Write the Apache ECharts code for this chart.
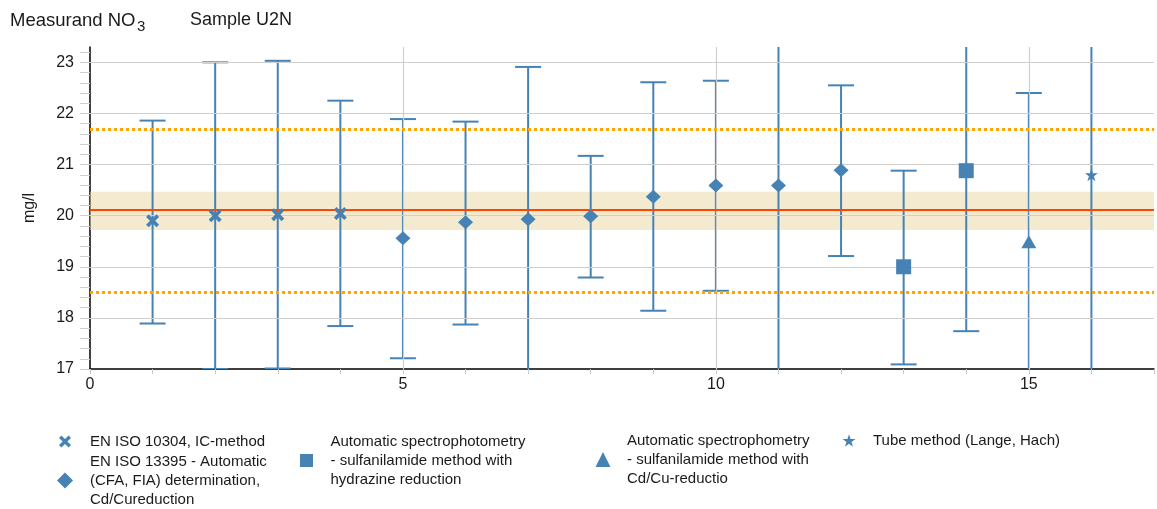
<!DOCTYPE html>
<html><head><meta charset="utf-8">
<script src="https://cdn.jsdelivr.net/npm/echarts@6/dist/echarts.min.js"></script>
<style>html,body{margin:0;padding:0;background:#fff}#c{width:1157px;height:509px}</style>
</head><body><div id="c"></div>
<script>
const labIds      = [1, 2, 3, 4, 5, 6, 7, 8, 9, 10, 11, 12, 13, 14, 15, 16];
const labValues   = [19.90, 20.00, 20.02, 20.04, 19.56, 19.87, 19.93, 19.99, 20.37, 20.59, 20.59, 20.89, 19.00, 20.88, 19.49, 20.80];
const lowerLimits = [17.89, 17.00, 17.01, 17.84, 17.21, 17.87, 16.95, 18.79, 18.14, 18.53, 16.90, 19.21, 17.09, 17.74, 16.58, 16.60];
const upperLimits = [21.86, 23.00, 23.03, 22.25, 21.89, 21.84, 22.91, 21.17, 22.61, 22.64, 24.30, 22.55, 20.88, 24.00, 22.40, 25.00];
const labMethod   = [0, 0, 0, 0, 1, 1, 1, 1, 1, 1, 1, 1, 2, 2, 3, 4];
const methodNames = [
  'EN ISO 10304, IC-method',
  'EN ISO 13395 - Automatic (CFA, FIA) determination, Cd/Cureduction',
  'Automatic spectrophotometry - sulfanilamide method with hydrazine reduction',
  'Automatic spectrophometry - sulfanilamide method with Cd/Cu-reductio',
  'Tube method (Lange, Hach)'
];
const methodLegendText = [
  'EN ISO 10304, IC-method',
  'EN ISO 13395 - Automatic\n(CFA, FIA) determination,\nCd/Cureduction',
  'Automatic spectrophotometry\n- sulfanilamide method with\nhydrazine reduction',
  'Automatic spectrophometry\n- sulfanilamide method with\nCd/Cu-reductio',
  'Tube method (Lange, Hach)'
];
const assignedValue   = 20.12;
const uncertaintyBand = [19.72, 20.47];
const toleranceLimits = [18.50, 21.70];
const yLabelTicks = [17, 18, 19, 20, 21, 22, 23];
const xLabelTicks = [0, 5, 10, 15];

const BLUE = '#4682B4';
const TXT = '#1a1a1a';
const FONT = 'Liberation Sans, Arial, sans-serif';
const symbols = [
  'path://M2,0L5,3L8,0L10,2L7,5L10,8L8,10L5,7L2,10L0,8L3,5L0,2Z',
  'diamond',
  'rect',
  'triangle',
  'path://M50,0L61.8,36.2L100,36.2L69.1,58.8L80.9,95.1L50,72.7L19.1,95.1L30.9,58.8L0,36.2L38.2,36.2Z'
];
const symbolSizes = [[13,13],[15,14],[15,15],[15,13],[13,13]];

const yMinorTicks = [];
for (let k = 170; k <= 232; k += 2) yMinorTicks.push(k / 10);
const xTicks = [];
for (let k = 0; k <= 17; k++) xTicks.push(k);

const errData = labIds.map((id, i) => [id, lowerLimits[i], upperLimits[i]]);

const scatterSeries = methodNames.map((name, m) => ({
  type: 'scatter', name: name, z: 5,
  symbol: symbols[m], symbolSize: symbolSizes[m],
  itemStyle: { color: BLUE, opacity: 1 },
  data: labIds.map((id, i) => labMethod[i] === m ? [id, labValues[i]] : null).filter(d => d)
}));

// icon centre x, top y, icon size, text offset from icon centre
const legendPos = [
  { cx: 65, top: 432, size: 12, off: 25 },
  { cx: 65, top: 452, size: 16, off: 25 },
  { cx: 306.5, top: 432, size: 13, off: 24 },
  { cx: 603, top: 431, size: 15, off: 24 },
  { cx: 849, top: 431, size: 13, off: 24 }
];
const legends = methodNames.map((name, m) => {
  const p = legendPos[m];
  return {
    data: [name], left: p.cx - p.size / 2, top: p.top, padding: 0,
    itemWidth: p.size, itemHeight: p.size, selectedMode: false,
    formatter: () => methodLegendText[m],
    textStyle: { fontSize: 15, fontFamily: FONT, color: TXT, lineHeight: 19,
                 padding: [0, 0, 0, p.off - p.size / 2 - 5] }
  };
});

const chart = echarts.init(document.getElementById('c'), null, { renderer: 'canvas' });
chart.setOption({
  animation: false,
  backgroundColor: '#fff',
  textStyle: { fontFamily: FONT },
  graphic: [
    { type: 'text', left: 10, top: 11, style: { text: 'Measurand NO', font: '18.5px ' + FONT, fill: TXT } },
    { type: 'text', left: 137, top: 19, style: { text: '3', font: '15px ' + FONT, fill: TXT } },
    { type: 'text', left: 190, top: 11, style: { text: 'Sample U2N', font: '18px ' + FONT, fill: TXT } }
  ],
  legend: legends,
  grid: { left: 90, right: 3, top: 47, bottom: 140, containLabel: false },
  xAxis: {
    type: 'value', min: 0, max: 17,
    axisLine: { lineStyle: { color: '#000', width: 1.5 } },
    axisTick: { show: true, customValues: xTicks, length: 5, lineStyle: { color: '#c8c8c8', width: 1 } },
    axisLabel: { customValues: xLabelTicks, fontSize: 16, color: TXT, margin: 8, fontFamily: FONT },
    splitLine: { show: false }
  },
  yAxis: {
    type: 'value', min: 17, max: 23.3,
    name: 'mg/l', nameLocation: 'middle', nameGap: 52,
    nameTextStyle: { fontSize: 16, color: TXT, fontFamily: FONT },
    axisLine: { show: true, lineStyle: { color: '#000', width: 1.5 } },
    axisTick: { show: true, customValues: yMinorTicks, length: 10, lineStyle: { color: '#cfcfcf', width: 1 } },
    axisLabel: { customValues: yLabelTicks, fontSize: 16, color: TXT, margin: 16, fontFamily: FONT },
    splitLine: { show: false }
  },
  series: [
    {
      type: 'line', data: [], z: 0, silent: true,
      markArea: {
        silent: true, itemStyle: { color: 'rgba(234,214,160,0.5)' },
        data: [[{ yAxis: uncertaintyBand[0] }, { yAxis: uncertaintyBand[1] }]]
      }
    },
    {
      type: 'line', data: [], z: 1, silent: true,
      markLine: {
        silent: true, symbol: ['none', 'none'], label: { show: false },
        lineStyle: { color: '#cfcfcf', width: 1.2, type: 'solid' },
        data: yLabelTicks.filter(v => v > 17).map(v => ({ yAxis: v }))
          .concat(xLabelTicks.filter(v => v > 0).map(v => ({ xAxis: v })))
      }
    },
    {
      type: 'line', data: [], z: 2, silent: true,
      markLine: {
        silent: true, symbol: ['none', 'none'], label: { show: false },
        data: [
          { yAxis: toleranceLimits[0], lineStyle: { color: '#FFA500', width: 3, type: [3, 3] } },
          { yAxis: toleranceLimits[1], lineStyle: { color: '#FFA500', width: 3, type: [3, 3] } },
          { yAxis: assignedValue, lineStyle: { color: '#FF4500', width: 2, type: 'solid' } }
        ]
      }
    },
    {
      type: 'custom', z: 3, clip: true, silent: true,
      encode: { x: 0, y: [1, 2] },
      data: errData,
      renderItem: (params, api) => {
        const x = api.value(0), lo = api.value(1), hi = api.value(2);
        const a = api.coord([x, lo]), b = api.coord([x, hi]);
        const hw = 13;
        const st = { stroke: BLUE, lineWidth: 2 };
        return {
          type: 'group', children: [
            { type: 'line', shape: { x1: a[0], y1: a[1], x2: b[0], y2: b[1] }, style: st },
            { type: 'line', shape: { x1: a[0] - hw, y1: a[1], x2: a[0] + hw, y2: a[1] }, style: st },
            { type: 'line', shape: { x1: b[0] - hw, y1: b[1], x2: b[0] + hw, y2: b[1] }, style: st }
          ]
        };
      }
    }
  ].concat(scatterSeries)
});
</script>
</body></html>
